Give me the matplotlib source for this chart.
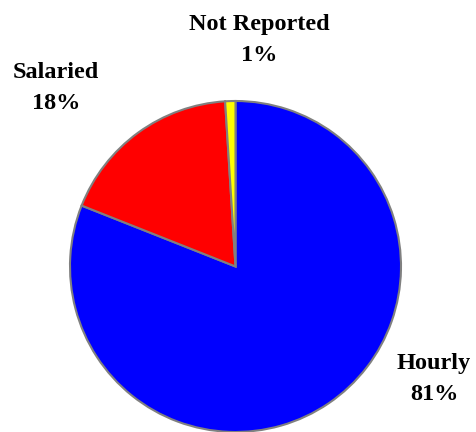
import matplotlib
matplotlib.use("Agg")
from matplotlib import pyplot as plt

categories = ['Hourly', 'Salaried', 'Not Reported']
shares = [81, 18, 1]
colors = ['#0000ff', '#ff0000', '#ffff00']

# label positions in pixels from the top-left corner
label_xy = [(434, 379), (56, 88), (259, 40)]

fig = plt.figure(figsize=(4.77, 4.32), dpi=100)
ax = fig.add_axes([0, 0, 1, 1])

ax.pie(shares, colors=colors, startangle=90, counterclock=False,
       center=(235.5, 432 - 266.5), radius=165.5,
       wedgeprops={'edgecolor': '#808080', 'linewidth': 1.5})

# pie() resets the limits, so set them afterwards
ax.set_xlim(0, 477)
ax.set_ylim(0, 432)
ax.set_aspect('equal')
ax.axis('off')

for name, val, (x, y) in zip(categories, shares, label_xy):
    ax.text(x, 432 - y, f'{name}\n{val}%', ha='center', va='center',
            fontsize=17.5, fontweight='bold', family='Liberation Serif',
            linespacing=1.65)

fig.savefig('out.png', dpi=100)
